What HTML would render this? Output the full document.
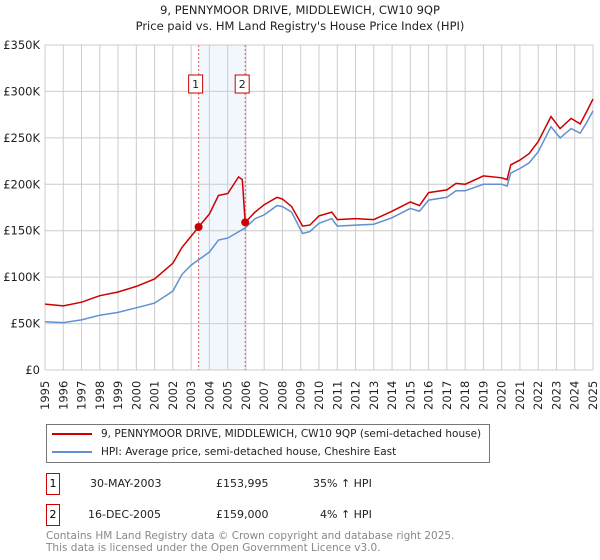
<!DOCTYPE html>
<html><head><meta charset="utf-8"><style>
body{margin:0;background:#fff;font-family:"DejaVu Sans","Liberation Sans",sans-serif;}
#wrap{position:relative;width:600px;height:560px;overflow:hidden}
.t{position:absolute;font-size:11px;color:#222;white-space:nowrap}
</style></head><body><div id="wrap">
<svg id="chart" width="600" height="420" style="position:absolute;left:0;top:0;font-family:'DejaVu Sans',sans-serif"></svg>
<div style="position:absolute;left:46px;top:424px;width:444px;height:39px;border:1px solid #777;box-sizing:border-box">
 <div style="position:absolute;left:5px;top:3px;font-size:10.5px;color:#222;white-space:nowrap"><span style="display:inline-block;width:40px;height:2px;background:#cc0000;vertical-align:middle;margin-right:9px"></span>9, PENNYMOOR DRIVE, MIDDLEWICH, CW10 9QP (semi-detached house)</div>
 <div style="position:absolute;left:5px;top:21px;font-size:10.5px;color:#222;white-space:nowrap"><span style="display:inline-block;width:40px;height:2px;background:#6090d0;vertical-align:middle;margin-right:9px"></span>HPI: Average price, semi-detached house, Cheshire East</div>
</div>
<div style="position:absolute;left:46px;top:473px;width:14px;height:22px;border:1px solid #cc0000;box-sizing:border-box;font-size:11px;text-align:center;line-height:20px">1</div>
<div class="t" style="left:90px;top:477px">30-MAY-2003</div>
<div class="t" style="left:216px;top:477px">£153,995</div>
<div class="t" style="left:313px;top:477px">35% ↑ HPI</div>
<div style="position:absolute;left:46px;top:504px;width:14px;height:22px;border:1px solid #cc0000;box-sizing:border-box;font-size:11px;text-align:center;line-height:20px">2</div>
<div class="t" style="left:88px;top:508px">16-DEC-2005</div>
<div class="t" style="left:216px;top:508px">£159,000</div>
<div class="t" style="left:320px;top:508px">4% ↑ HPI</div>
<div class="t" style="left:46px;top:531px;color:#888;font-size:10.5px;line-height:11.5px">Contains HM Land Registry data © Crown copyright and database right 2025.<br>This data is licensed under the Open Government Licence v3.0.</div>
</div>
<script>
const redX=[1995,1996,1997,1998,1999,2000,2001,2002,2002.5,2003.41,2004,2004.5,2005,2005.6,2005.8,2005.96,2006.5,2007,2007.7,2008,2008.5,2009.1,2009.5,2010,2010.7,2011,2012,2013,2014,2015,2015.5,2016,2017,2017.5,2018,2019,2020,2020.3,2020.5,2021,2021.5,2022,2022.7,2023.2,2023.8,2024.3,2024.7,2025];
const redY=[71000,69000,73000,80000,84000,90000,98000,115000,132000,153995,168000,188000,190000,208000,205000,159000,170000,178000,186000,184000,176000,155000,156000,166000,170000,162000,163000,162000,171000,181000,177000,191000,194000,201000,200000,209000,207000,205000,221000,226000,233000,246000,273000,260000,271000,265000,280000,292000];
const hpiX=[1995,1996,1997,1998,1999,2000,2001,2002,2002.5,2003,2004,2004.5,2005,2005.96,2006.5,2007,2007.7,2008,2008.5,2009.1,2009.5,2010,2010.7,2011,2012,2013,2014,2015,2015.5,2016,2017,2017.5,2018,2019,2020,2020.3,2020.5,2021,2021.5,2022,2022.7,2023.2,2023.8,2024.3,2024.7,2025];
const hpiY=[52000,51000,54000,59000,62000,67000,72000,85000,103000,113000,127000,140000,142000,153000,163000,167000,177000,176000,170000,147000,149000,158000,163000,155000,156000,157000,164000,174000,171000,183000,186000,193000,193000,200000,200000,198000,212000,217000,223000,235000,262000,250000,260000,255000,268000,279000];
const yTicks=[0,50000,100000,150000,200000,250000,300000,350000];
const yTickLabels=["£0","£50K","£100K","£150K","£200K","£250K","£300K","£350K"];
const years=[1995,1996,1997,1998,1999,2000,2001,2002,2003,2004,2005,2006,2007,2008,2009,2010,2011,2012,2013,2014,2015,2016,2017,2018,2019,2020,2021,2022,2023,2024,2025];
const saleX=[2003.41,2005.96];
const saleY=[153995,159000];
const saleLabels=["1","2"];
const L=45,R=593,T=45,B=370;
const xs=v=>L+(v-1995)/30*(R-L);
const ys=v=>B-v/350000*(B-T);
const svg=document.getElementById('chart');const NS='http://www.w3.org/2000/svg';
function mk(tag,at,parent){const e=document.createElementNS(NS,tag);for(const k in at)e.setAttribute(k,at[k]);(parent||svg).appendChild(e);return e;}
let e;
e=mk('text',{x:300,y:14,'text-anchor':'middle','font-size':11.5,fill:'#222'});e.textContent='9, PENNYMOOR DRIVE, MIDDLEWICH, CW10 9QP';


e=mk('text',{x:300,y:30,'text-anchor':'middle','font-size':11.5,fill:'#222'});e.textContent="Price paid vs. HM Land Registry's House Price Index (HPI)";


e=mk('rect',{x:xs(saleX[0]),y:T,width:xs(saleX[1])-xs(saleX[0]),height:B-T,fill:'#f2f6fd'});


years.forEach(y=>{e=mk('line',{x1:xs(y),x2:xs(y),y1:T,y2:B,stroke:'#ccc','stroke-width':1});


e=mk('text',{transform:`translate(${xs(y)+4},410) rotate(-90)`,'font-size':11.5,fill:'#222'});e.textContent=y;

});
yTicks.forEach((v,i)=>{e=mk('line',{x1:L,x2:R,y1:ys(v),y2:ys(v),stroke:'#ccc','stroke-width':1});


e=mk('text',{x:L-5,y:ys(v)+4,'text-anchor':'end','font-size':11.5,fill:'#222'});e.textContent=yTickLabels[i];

});
saleX.forEach((x,i)=>{e=mk('line',{x1:xs(x),x2:xs(x),y1:T,y2:B,stroke:'#e06060','stroke-width':1,'stroke-dasharray':'2,2'});

});
const path=(X,Y)=>X.map((x,i)=>(i?'L':'M')+xs(x).toFixed(1)+','+ys(Y[i]).toFixed(1)).join('');
e=mk('path',{d:path(hpiX,hpiY),fill:'none',stroke:'#6090d0','stroke-width':1.5});


e=mk('path',{d:path(redX,redY),fill:'none',stroke:'#cc0000','stroke-width':1.5});


saleX.forEach((x,i)=>{e=mk('circle',{cx:xs(x),cy:ys(saleY[i]),r:4,fill:'#cc0000'});


e=mk('rect',{x:xs(x)-10,y:75,width:14,height:18,fill:'#fff',stroke:'#cc0000'});


e=mk('text',{x:xs(x)-3,y:88,'text-anchor':'middle','font-size':11,fill:'#222'});e.textContent=saleLabels[i];

});
</script></body></html>
